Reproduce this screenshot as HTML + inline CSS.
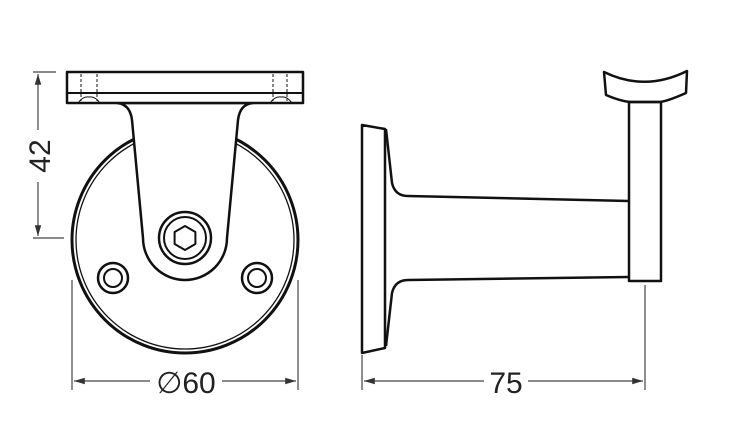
<!DOCTYPE html>
<html><head><meta charset="utf-8"><style>html,body{margin:0;padding:0;background:#fff}svg{display:block}</style></head><body>
<svg width="740" height="440" viewBox="0 0 740 440" xmlns="http://www.w3.org/2000/svg">
<defs><marker id="a" viewBox="0 0 10 10" refX="10" refY="5" markerWidth="9" markerHeight="9" orient="auto-start-reverse"><path d="M0,2 L10,5 L0,8 Z" fill="#333"/></marker></defs>
<g fill="none" stroke="#111" stroke-width="2.5" stroke-linejoin="round">
<!-- wheel -->
<circle cx="185" cy="240" r="113" stroke-width="3"/>
<circle cx="185" cy="240" r="109" stroke-width="1.3"/>
<!-- bracket -->
<path d="M117,103 Q130,104 132,120 L143,238 A42,42 0 0 0 227,238 L238,120 Q240,104 253,103 Z" fill="#fff"/>
<!-- plate -->
<rect x="67" y="72" width="236" height="31" fill="#fff"/>
<line x1="67" y1="93" x2="303" y2="93" stroke-width="2"/>
<g stroke-width="1" stroke-dasharray="3,2"><line x1="81" y1="74" x2="81" y2="101"/><line x1="97" y1="74" x2="97" y2="101"/><line x1="273" y1="74" x2="273" y2="101"/><line x1="287" y1="74" x2="287" y2="101"/></g>
<path d="M78,103 Q83,96 89,97 Q95,96 100,103 M270,103 Q275,96 281,97 Q287,96 292,103" stroke-width="1"/>
<!-- bolt -->
<circle cx="185" cy="238" r="26"/>
<circle cx="185" cy="238" r="21" stroke-width="2"/>
<polygon points="185,226 195.4,232 195.4,244 185,250 174.6,244 174.6,232" stroke-width="2"/>
<!-- small holes -->
<circle cx="113" cy="278" r="15"/><circle cx="113" cy="278" r="9" stroke-width="2"/>
<circle cx="257" cy="278" r="15"/><circle cx="257" cy="278" r="9" stroke-width="2"/>
<!-- side view -->
<polygon points="362,125 385,129 385,348 362,353"/>
<path d="M386,129 L392,183 Q395,196 408,196 L629,201 M629,277 L408,280 Q395,280 392,293 L386,346"/>
<rect x="629" y="102" width="32" height="179"/>
<path d="M604,72 Q645,92 687,71 L686,93 Q668,101 660,102 L630,102 Q620,101 606,95 Z"/>
</g>
<!-- dimensions -->
<g stroke="#444" stroke-width="1.2" fill="none">
<line x1="33" y1="72" x2="56" y2="72"/><line x1="33" y1="238" x2="64" y2="238"/>
<line x1="38" y1="74" x2="38" y2="130" marker-start="url(#a)"/><line x1="38" y1="182" x2="38" y2="236" marker-end="url(#a)"/>
<line x1="72" y1="280" x2="72" y2="390"/><line x1="298" y1="280" x2="298" y2="390"/>
<line x1="74" y1="381" x2="150" y2="381" marker-start="url(#a)"/><line x1="222" y1="381" x2="296" y2="381" marker-end="url(#a)"/>
<line x1="362" y1="355" x2="362" y2="390"/><line x1="645" y1="285" x2="645" y2="390"/>
<line x1="364" y1="381" x2="484" y2="381" marker-start="url(#a)"/><line x1="528" y1="381" x2="643" y2="381" marker-end="url(#a)"/>
</g>
<g font-family="Liberation Sans, sans-serif" font-size="30" fill="#222" text-anchor="middle">
<text transform="translate(50,156) rotate(-90)">42</text>
<text x="186" y="393">∅60</text>
<text x="506" y="393">75</text>
</g>
</svg>
</body></html>
